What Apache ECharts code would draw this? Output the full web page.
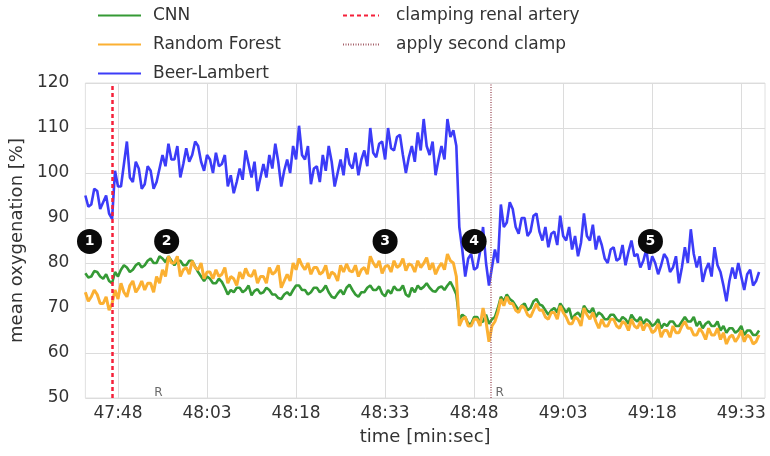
<!DOCTYPE html>
<html>
<head>
<meta charset="utf-8">
<script src="https://cdn.jsdelivr.net/npm/echarts@6/dist/echarts.min.js"></script>
<style>
  html, body { margin: 0; padding: 0; background: #fff; }
  #chart { width: 770px; height: 456px; }
</style>
</head>
<body>
<div id="chart"></div>
<script>
// time base: seconds of the recording (47:42.5 ...), two samples per second
const startTime = 2862.5;
const step = 0.5;

const cnn = [
  77.7, 76.8, 77, 78.2, 78, 77, 76.5, 77.5, 76, 75.5,
  78, 77, 78.5, 79.5, 79, 78, 78.5, 79.5, 80, 79,
  79.5, 80.5, 81, 80, 80, 81.5, 81, 80.2, 81.5, 80.5,
  79.5, 80.5, 80.5, 79.5, 79.5, 80.5, 80.5, 79.2, 78, 77,
  76, 77, 76.5, 75.5, 75.5, 76.5, 75.8, 74.5, 73, 74,
  73.5, 74.5, 74.5, 73.5, 74, 75, 72.8, 73.8, 74.2, 73.2,
  73.5, 74.5, 74, 73, 73, 72.2, 72, 73, 73.5, 72.8,
  74, 75, 75, 74, 74, 73, 73.5, 74.5, 74.5, 73.5,
  74, 75, 73.5, 72.5, 72.2, 73.2, 74, 73, 74.5, 75.2,
  74, 73, 72.5, 73.5, 73.5, 74.5, 75, 74, 74, 74.8,
  73.2, 72.6, 74, 73.2, 74.8, 74, 74, 75, 73, 72.5,
  74.5, 73.5, 75, 74.2, 74.7, 75.5, 74.5, 73.8, 73.6, 74.5,
  74.8, 74, 75, 75.8, 74.5, 73, 67.5, 68.5, 68, 66.5,
  66.5, 68, 68, 66.8, 67, 68.5, 66.5, 67.5, 68, 70,
  72.5, 71.5, 73, 72, 71.5, 70.5, 69.5, 70.5, 71, 69.5,
  70, 71.5, 72, 70.8, 70.5, 69.5, 68.5, 69.5, 70, 69,
  71, 70, 69, 70, 67.5, 68.5, 69, 68, 70.5, 69.5,
  69, 70, 68, 69, 68.5, 67.5, 67.5, 68.5, 68.5, 67.5,
  67, 68, 67.5, 66.5, 68.5, 67.5, 67, 68, 66.5, 67.5,
  67, 66, 66.5, 67.5, 65.5, 66.5, 66, 67, 67, 66,
  66, 67, 68, 67, 67, 68, 66, 67, 65.5, 66.5,
  67, 66, 66, 67, 65, 66, 64.5, 65.5, 65.5, 64.5,
  65, 66, 64, 65, 65, 64, 64, 65
];

const randomForest = [
  73.5, 71.5, 72.5, 74, 73, 71, 71, 72.5, 69.5, 71,
  74, 72, 75.5, 73.5, 72.5, 75, 76, 73.5, 74.5, 76,
  74, 75.5, 75.5, 73.5, 77, 75.5, 78.5, 77, 81.5, 80,
  80, 81.5, 77, 78.5, 79, 77.5, 80.5, 79, 78.5, 80,
  76.5, 78, 78, 76.5, 78.5, 77, 77.5, 79, 75.5, 77,
  76.5, 75, 78, 76.5, 78.8, 77.3, 77, 78.5, 75.5, 77,
  77, 75.5, 79, 77.5, 78, 79.5, 74.5, 76, 77.5, 76,
  80, 78.5, 81, 79.5, 78.5, 80, 77.5, 79, 79, 77.5,
  78, 79.5, 76.5, 78, 77.5, 76, 79.5, 78, 79.8, 78.3,
  78, 79.5, 77, 78.5, 79, 77.5, 81.5, 80, 79, 80.5,
  77.7, 79.2, 79.5, 78, 80.5, 79, 79.5, 81, 78.3, 79.8,
  79.5, 78, 80.5, 79, 79.9, 81.2, 78.5, 80, 77.5, 79,
  80, 78.5, 82, 80.5, 80, 77, 66, 67.5, 68, 66,
  66, 67.5, 67.5, 66, 70, 67, 62.5, 66, 67, 69,
  72, 70.5, 72.5, 71, 71, 69.5, 69, 70.5, 70, 68.5,
  68, 69.5, 71, 69.5, 69.5, 68, 67.5, 69, 69, 67.5,
  70.5, 69, 68, 66.5, 66.5, 68, 67.5, 66, 70, 68.5,
  67.5, 69, 67, 65.5, 67.5, 66, 66, 67.5, 67.5, 66,
  65.5, 67, 66.5, 65, 67.5, 66, 65.5, 67, 65, 66.5,
  66, 64.5, 65, 66.5, 63.5, 65, 65, 63.5, 66, 64.5,
  64.5, 66, 67, 65.5, 65.5, 64, 64, 65.5, 64.5, 63,
  65.5, 64, 64, 65.5, 63, 64.5, 62, 63.5, 64, 62.5,
  63.5, 65, 62.5, 64, 63.5, 62, 62.5, 64
];

const beerLambert = [
  95, 92.5, 93, 96.5, 96, 92, 93.5, 95, 91, 89.8,
  100.5, 97, 97, 102, 107, 99, 98, 102.5, 101, 96.5,
  97.5, 101.5, 100.5, 96.5, 98, 101, 104, 101.5, 106.5, 103,
  103, 106, 99, 102, 105.5, 102.5, 104, 107, 106, 102.5,
  100.5, 104, 103, 100, 104.5, 101.5, 102, 104, 97, 99.5,
  95.5, 98, 101, 98.5, 105, 102, 99, 102.5, 96, 99,
  102, 99, 104, 101, 106.5, 102.5, 97, 100.5, 103, 100,
  106, 103, 110.5, 104, 103, 106, 97.5, 101, 101.5, 98,
  104, 100.5, 106, 102.5, 97, 100, 103, 99.5, 105.5, 102,
  101, 104.5, 99.5, 103, 105, 101.5, 110, 104.5, 103.5, 106.5,
  107, 103, 110, 105.5, 105, 108, 108.5, 104, 100, 103.5,
  106, 102.5, 109, 105, 112, 106, 104, 107, 99.5, 103,
  106, 103, 112, 108, 109.5, 106, 88, 83, 77, 81,
  82, 78.5, 79, 82.5, 88, 80, 75, 79, 83, 80,
  93, 88, 89, 93.5, 92, 88, 86.5, 90, 90, 86,
  87, 90.5, 91, 87, 85, 88, 83.5, 86.5, 87, 84,
  90.5, 86, 85, 88, 83, 86, 81.5, 84.5, 91, 86,
  85, 88.5, 83, 86, 84, 81, 80, 83, 83.5, 80.5,
  81, 84, 79.5, 82.5, 85, 81.5, 82, 79, 80.5, 83,
  78.5, 81.5, 80, 77.5, 79.5, 82, 81, 78, 79, 81.5,
  75.5, 79, 83.5, 80, 87.5, 82, 79, 81.5, 75.8, 78.5,
  80, 77, 83.5, 79.5, 78, 75, 71.5, 76, 79, 76.5,
  80, 77, 74, 77.5, 78.5, 75, 76, 78
];

const clampTime = 2867;         // clamping renal artery
const secondClampTime = 2930.8; // apply second clamp

const xTicks = [2868, 2883, 2898, 2913, 2928, 2943, 2958, 2973];

const eventTimes = [2863.2, 2876.2, 2913, 2928, 2957.7];
const eventLevel = 84.8;
const eventLabels = ['1', '2', '3', '4', '5'];

const rTimes = [2874.8, 2932.3];
const rLevel = 51.1;

const toPairs = (vals) => vals.map((v, i) => [startTime + i * step, v]);

function mmss(v) {
  const m = Math.floor(v / 60);
  const s = Math.round(v - m * 60);
  return m + ':' + (s < 10 ? '0' : '') + s;
}

const font = 'DejaVu Sans';
const chart = echarts.init(document.getElementById('chart'));

// legend icons: line only, hide the symbol circle echarts adds
const legendBase = {
  orient: 'vertical',
  top: 2,
  itemHeight: 14,
  itemGap: 12,
  selectedMode: false,
  itemStyle: { color: 'rgba(0,0,0,0)', borderWidth: 0 }
};

const option = {
  backgroundColor: '#fff',
  animation: false,
  textStyle: { fontFamily: font },
  grid: {
    left: 79, right: 5, top: 83, bottom: 58,
    show: true, borderColor: '#e0e0e0', borderWidth: 1
  },
  legend: [
    Object.assign({}, legendBase, {
      left: 92,
      itemWidth: 43,
      textStyle: { fontSize: 17, color: '#333', lineHeight: 17, padding: [0, 0, 0, 7] },
      data: ['CNN', 'Random Forest', 'Beer-Lambert']
    }),
    Object.assign({}, legendBase, {
      left: 337,
      itemWidth: 36,
      textStyle: { fontSize: 17, color: '#333', lineHeight: 17, padding: [0, 0, 0, 12] },
      data: ['clamping renal artery', 'apply second clamp']
    })
  ],
  xAxis: {
    type: 'value',
    min: 2862.5,
    max: 2977,
    name: 'time [min:sec]',
    nameLocation: 'middle',
    nameGap: 30,
    nameTextStyle: { fontSize: 18, color: '#333' },
    axisLine: { show: false },
    axisTick: { show: false, customValues: xTicks },
    axisLabel: { customValues: xTicks, formatter: mmss, fontSize: 17, color: '#333', margin: 7 },
    splitLine: { show: true, lineStyle: { color: '#dcdcdc', width: 1 } }
  },
  yAxis: {
    type: 'value',
    min: 50,
    max: 120,
    interval: 10,
    name: 'mean oxygenation [%]',
    nameLocation: 'middle',
    nameGap: 52,
    nameTextStyle: { fontSize: 18, color: '#333' },
    axisLine: { show: false },
    axisTick: { show: false },
    axisLabel: { fontSize: 17, color: '#333', margin: 16 },
    splitLine: { show: true, lineStyle: { color: '#dcdcdc', width: 1 } }
  },
  series: [
    {
      name: 'CNN', type: 'line', symbol: 'none',
      data: toPairs(cnn),
      lineStyle: { color: '#359a35', width: 2.6 },
      itemStyle: { color: '#359a35' }
    },
    {
      name: 'Random Forest', type: 'line', symbol: 'none',
      data: toPairs(randomForest),
      lineStyle: { color: '#fbb032', width: 3 },
      itemStyle: { color: '#fbb032' }
    },
    {
      name: 'Beer-Lambert', type: 'line', symbol: 'none',
      data: toPairs(beerLambert),
      lineStyle: { color: '#3c3cf8', width: 2.6 },
      itemStyle: { color: '#3c3cf8' }
    },
    {
      name: 'clamping renal artery', type: 'line', symbol: 'none',
      data: [],
      lineStyle: { color: '#f5203a', width: 2.5, type: [4, 3] },
      itemStyle: { color: '#f5203a' },
      markLine: {
        silent: true, symbol: 'none', label: { show: false },
        lineStyle: { color: '#f5203a', width: 2.5, type: [4, 3] },
        data: [{ xAxis: clampTime }]
      }
    },
    {
      name: 'apply second clamp', type: 'line', symbol: 'none',
      data: [],
      lineStyle: { color: '#a5606a', width: 1.5, type: [1, 1.5] },
      itemStyle: { color: '#a5606a' },
      markLine: {
        silent: true, symbol: 'none', label: { show: false },
        lineStyle: { color: '#a5606a', width: 1.5, type: [1, 1.5] },
        data: [{ xAxis: secondClampTime }]
      }
    },
    {
      type: 'scatter',
      symbolSize: 25,
      z: 5,
      data: eventTimes.map((t) => [t, eventLevel]),
      itemStyle: { color: '#0a0a0a', opacity: 1 },
      label: {
        show: true, position: 'inside',
        formatter: (p) => eventLabels[p.dataIndex],
        color: '#fff', fontSize: 14, fontWeight: 'bold'
      }
    },
    {
      type: 'scatter',
      symbolSize: 0,
      data: rTimes.map((t) => [t, rLevel]),
      label: {
        show: true, position: 'inside', formatter: 'R',
        color: '#444', fontSize: 12
      }
    }
  ]
};

chart.setOption(option);
</script>
</body>
</html>
